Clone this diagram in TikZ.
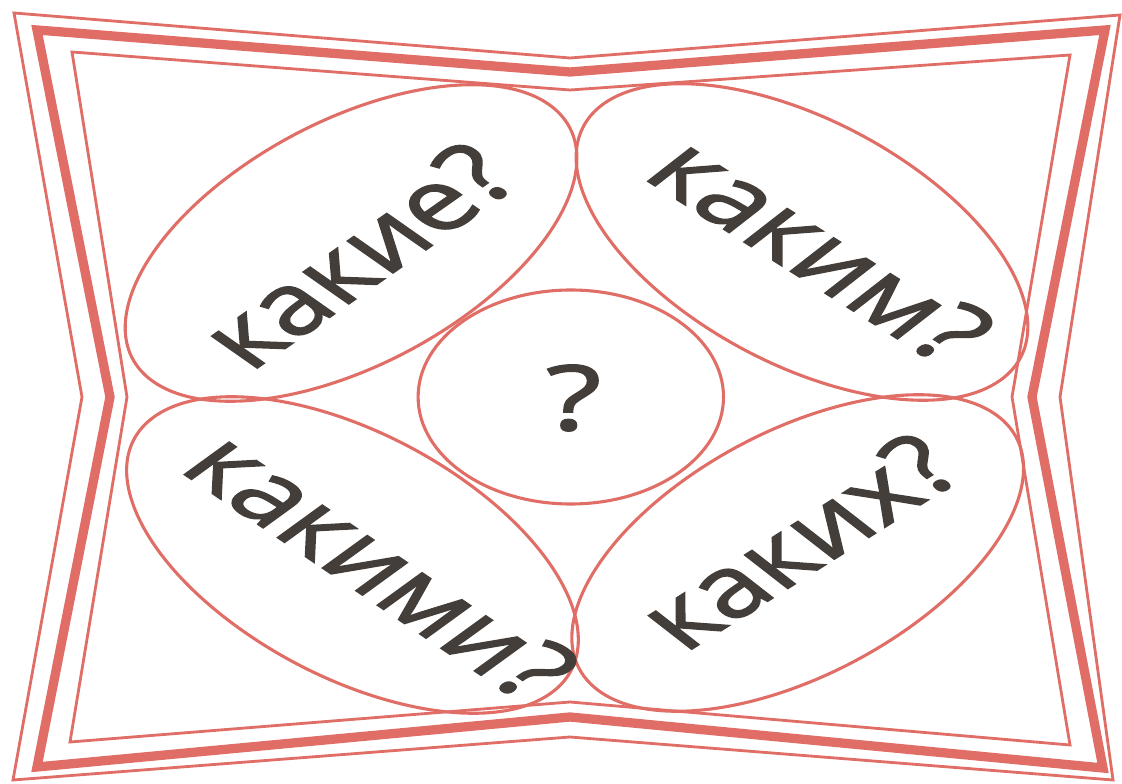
\documentclass[tikz,border=0pt]{standalone}
\usepackage{fontspec}
\setmainfont{Open Sans}
\newfontfamily\wortschrift[FakeBold=1.6]{Open Sans}
\usepackage{tikz}

\definecolor{rahmenrot}{RGB}{224,110,102}
\definecolor{schrift}{RGB}{68,62,58}

\tikzset{
	duenn/.style={draw=rahmenrot, line width=2pt},
	dick/.style={draw=rahmenrot, line width=6.6pt},
	oval/.style={draw=rahmenrot, line width=2.2pt},
	wort/.style={text=schrift, font=\wortschrift\fontsize{60}{64}\selectfont, transform shape, inner sep=0pt}
}

\begin{document}
\begin{tikzpicture}[x=0.025cm, y=0.025cm]
			\useasboundingbox (0,0) rectangle (1122,783);
			
			% Rahmen aussen
			\draw[duenn] (14,770) -- (570,725) -- (1120,768) -- (1060,386)
				-- (1113,3) -- (570,46) -- (13,3) -- (82,386) -- cycle;
			% Rahmen mitte
			\draw[dick] (37,753) -- (570,711) -- (1105,753) -- (1032,386)
				-- (1103,15) -- (570,66) -- (37,16) -- (110,386) -- cycle;
			% Rahmen innen
			\draw[duenn] (72,731) -- (570,693) -- (1070,728) -- (1012,386)
				-- (1070,38) -- (570,81) -- (70,41) -- (127,386) -- cycle;
			
			\begin{scope}[xscale=1.427]
				% Ellipsen
				\foreach \cx/\cy/\ang in {246/540/45, 562/541/-45, 247/228/-45, 559/230/45} {
					\draw[oval, shift={(\cx,\cy)}, rotate=\ang] (0,0) ellipse [x radius=196, y radius=108];
				}
				\draw[oval] (400,386) circle [radius=107];
				
				% Beschriftung
				\node[wort, rotate=45] (kakie) at (250,527) {какие?};
				\node[wort, rotate=-42] (kakim) at (575,533) {каким?};
				\node[wort, rotate=-44] (kakimi) at (267,217) {какими?};
				\node[wort, rotate=42] (kakih) at (559,241) {каких?};
				\node[wort, font=\wortschrift\fontsize{64}{68}\selectfont] (frage) at (402,385) {?};
			\end{scope}
		\end{tikzpicture}
\end{document}
